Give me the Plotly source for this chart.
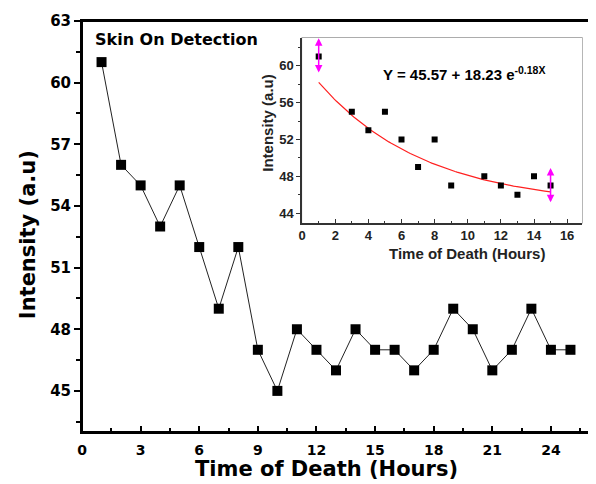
import numpy as np
import plotly.graph_objects as go

# ---- data ----
hours = list(range(1, 26))
intensity = [61, 56, 55, 53, 55, 52, 49, 52, 47, 45, 48, 47, 46, 48, 47,
             47, 46, 47, 49, 48, 46, 47, 49, 47, 47]

inset_hours = [1, 3, 4, 5, 6, 7, 8, 9, 11, 12, 13, 14, 15]
inset_intensity = [61, 55, 53, 55, 52, 49, 52, 47, 48, 47, 46, 48, 47]

# fitted exponential decay curve as drawn (parameters)
FIT_A, FIT_B, FIT_K = 44.76, 15.7, 0.155
fit_x = np.linspace(1, 15, 120)
fit_y = FIT_A + FIT_B * np.exp(-FIT_K * fit_x)

# double-arrow ranges at the ends of the fit
arrow_x = [1, 15]
arrow_lo = [59.1, 45.0]
arrow_hi = [63.0, 48.9]

main_xticks = [0, 3, 6, 9, 12, 15, 18, 21, 24]
main_yticks = [45, 48, 51, 54, 57, 60, 63]
inset_xticks = [0, 2, 4, 6, 8, 10, 12, 14, 16]
inset_yticks = [44, 48, 52, 56, 60]

FONT = "Liberation Sans"
WIDE = "DejaVu Sans"

# page is shown with an 8px body margin: size the figure to fit the window
OFF = 8
W, H = 596 - OFF, 484 - OFF
L, R, T, B = 82 - OFF, 4, 19 - OFF, 52
PW, PH = W - L - R, H - T - B


def px(xr):
    """reference x pixel -> paper fraction"""
    return (xr - OFF - L) / PW


def py(yr):
    """reference y pixel -> paper fraction"""
    return (H - B - (yr - OFF)) / PH


fig = go.Figure()

fig.add_trace(go.Scatter(
    x=hours, y=intensity, mode="lines+markers",
    line=dict(color="#222222", width=1),
    marker=dict(symbol="square", size=10, color="black"),
    xaxis="x", yaxis="y", showlegend=False))

fig.add_trace(go.Scatter(
    x=fit_x, y=fit_y, mode="lines",
    line=dict(color="#FF2020", width=1.2),
    xaxis="x2", yaxis="y2", showlegend=False))

fig.add_trace(go.Scatter(
    x=inset_hours, y=inset_intensity, mode="markers",
    marker=dict(symbol="square", size=6, color="black"),
    xaxis="x2", yaxis="y2", showlegend=False))

annotations = []
for xv, lo, hi in zip(arrow_x, arrow_lo, arrow_hi):
    annotations.append(dict(
        x=xv, y=hi, ax=xv, ay=lo, xref="x2", yref="y2", axref="x2", ayref="y2",
        showarrow=True, arrowhead=2, arrowside="end+start", arrowsize=1,
        arrowwidth=1.5, arrowcolor="#FF00FF", text=""))

annotations += [
    dict(text="Skin On Detection", x=px(93), y=py(38), xref="paper", yref="paper",
         xanchor="left", yanchor="middle", showarrow=False,
         font=dict(family=WIDE, size=16, color="black", weight="bold")),
    dict(text="Y = 45.57 + 18.23 e<sup>-0.18X</sup>", x=px(382), y=py(72),
         xref="paper", yref="paper", xanchor="left", yanchor="middle",
         showarrow=False,
         font=dict(family=FONT, size=15, color="black", weight="bold")),
    dict(text="Time of Death (Hours)", x=px(327), y=py(469),
         xref="paper", yref="paper", xanchor="center", yanchor="middle",
         showarrow=False,
         font=dict(family=WIDE, size=21, color="black", weight="bold")),
    dict(text="Intensity (a.u)", x=px(28), y=py(234),
         xref="paper", yref="paper", xanchor="center", yanchor="middle",
         textangle=-90, showarrow=False,
         font=dict(family=WIDE, size=21, color="black", weight="bold")),
    dict(text="Time of Death (Hours)", x=px(469), y=py(253),
         xref="paper", yref="paper", xanchor="center", yanchor="middle",
         showarrow=False,
         font=dict(family=FONT, size=15, color="#222222", weight="bold")),
    dict(text="Intensity (a.u)", x=px(268), y=py(121),
         xref="paper", yref="paper", xanchor="center", yanchor="middle",
         textangle=-90, showarrow=False,
         font=dict(family=FONT, size=15, color="#222222", weight="bold")),
]

ix0, ix1 = px(303), px(584)
iy0, iy1 = py(222), py(36)

fig.update_layout(
    width=W, height=H,
    margin=dict(l=L, r=R, t=T, b=B),
    paper_bgcolor="white", plot_bgcolor="white",
    font=dict(family=FONT, color="black"),
    xaxis=dict(
        domain=[0, 1], range=[0, 26], tickvals=main_xticks,
        showgrid=False, zeroline=False,
        showline=True, linecolor="black", linewidth=2, mirror=True,
        ticks="inside", ticklen=6, tickwidth=2, tickcolor="black",
        minor=dict(dtick=1.5, tick0=0, ticks="inside", ticklen=4,
                   tickwidth=2, tickcolor="black", showgrid=False),
        ticklabelstandoff=4,
        tickfont=dict(family=WIDE, size=14, color="black", weight="bold"),
    ),
    yaxis=dict(
        domain=[0, 1], range=[43, 63], tickvals=main_yticks,
        showgrid=False, zeroline=False,
        showline=True, linecolor="black", linewidth=2, mirror=True,
        ticks="outside", ticklen=6, tickwidth=2, tickcolor="black",
        minor=dict(dtick=1.5, tick0=0, ticks="outside", ticklen=4,
                   tickwidth=2, tickcolor="black", showgrid=False),
        tickfont=dict(family=WIDE, size=15, color="black", weight="bold"),
    ),
    xaxis2=dict(
        domain=[ix0, ix1], anchor="y2", range=[0, 16.9], tickvals=inset_xticks,
        showgrid=False, zeroline=False,
        showline=True, linecolor="#333333", linewidth=1.5,
        ticks="inside", ticklen=4, tickwidth=1.2, tickcolor="#333333",
        minor=dict(dtick=1, tick0=0, ticks="inside", ticklen=2.5,
                   tickwidth=1.2, tickcolor="#333333", showgrid=False),
        tickfont=dict(family=FONT, size=13, color="#222222", weight="bold"),
    ),
    yaxis2=dict(
        domain=[iy0, iy1], anchor="x2", range=[42.92, 63.03],
        tickvals=inset_yticks,
        showgrid=False, zeroline=False,
        showline=True, linecolor="#333333", linewidth=1.5,
        ticks="outside", ticklen=4, tickwidth=1.2, tickcolor="#333333",
        minor=dict(dtick=2, tick0=0, ticks="outside", ticklen=2.5,
                   tickwidth=1.2, tickcolor="#333333", showgrid=False),
        tickfont=dict(family=FONT, size=13, color="#222222", weight="bold"),
    ),
    shapes=[
        dict(type="rect", xref="paper", yref="paper",
             x0=ix0, x1=ix1, y0=iy0, y1=iy1,
             line=dict(color="#888888", width=1.2),
             fillcolor="rgba(0,0,0,0)", layer="below"),
        dict(type="rect", xref="paper", yref="paper",
             x0=0, x1=1, y0=0, y1=1,
             line=dict(color="black", width=2),
             fillcolor="rgba(0,0,0,0)", layer="above"),
    ],
    annotations=annotations,
)

fig.write_html("out.html")
